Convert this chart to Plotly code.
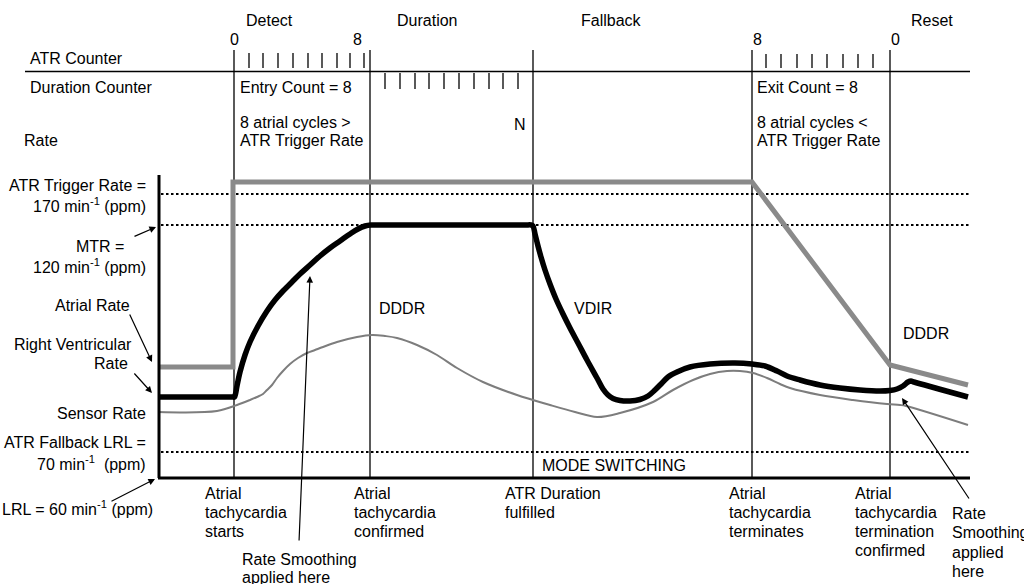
import plotly.graph_objects as go

# ---------------- data (diagram units: x = time position, y = rate position, y grows downward) ----
phase_labels = ["Detect", "Duration", "Fallback", "Reset"]
phase_label_x = [269, 427, 611, 932]

event_x = [234, 370, 533, 752, 890]          # tachycardia starts / confirmed / duration / terminates / reset
counter_labels = ["0", "8", "8", "0"]
counter_label_x = [234, 357, 757, 895]

atr_counter_ticks = [249, 263, 278, 293, 308, 322, 337, 350, 364]
duration_counter_ticks = [385, 400, 415, 429, 444, 459, 474, 489, 503, 518]
exit_counter_ticks = [766, 781, 797, 812, 827, 843, 858, 873]

level_names = ["ATR Trigger Rate", "MTR", "ATR Fallback LRL", "LRL"]
level_y = [194, 225, 452, 478]

atrial_x = [158, 233, 233, 752, 890, 968]
atrial_y = [367, 367, 182, 182, 365, 385]

rv_x = [158, 232, 234.5, 235.5, 237, 240, 245, 250, 258, 267, 275, 283, 292, 300, 310, 320, 330, 340, 350,
        358, 365, 371, 380, 525, 531, 533, 535, 538, 541, 545, 550, 556, 563, 570, 578, 587, 597, 603, 608,
        613, 620, 630, 640, 648, 655, 662, 668, 677, 690, 710, 735, 752, 765, 777, 787, 800, 820, 840, 860,
        880, 890, 897, 903, 908, 911, 914, 968]
rv_y = [397, 397, 397, 394, 386, 372, 355, 342, 326, 311, 300, 291, 282, 274, 265, 256, 248, 241, 234,
        229, 226, 225, 225, 225, 225, 226, 234, 246, 257, 270, 284, 299, 314, 328, 343, 360, 378, 389, 395,
        398.5, 400.5, 401, 399.5, 396, 390, 383, 377, 372, 367, 364, 363, 364, 366, 371, 376, 380, 385, 388,
        390, 391, 390.5, 389, 386, 382, 381, 382, 397]

sensor_x = [158, 217, 237, 250, 257, 263, 267, 272, 277, 283, 290, 298, 307, 315, 323, 337, 357, 372, 385,
            397, 417, 437, 457, 483, 517, 550, 575, 597, 620, 653, 673, 693, 710, 727, 740, 753, 767, 780,
            790, 820, 853, 887, 900, 906, 968]
sensor_y = [412, 411, 405, 400, 397, 394, 390, 385, 378, 371, 364, 358, 353, 350, 347, 342, 337, 335, 336,
            338, 345, 355, 368, 382, 395, 405, 412, 417, 413, 402, 390, 380, 374, 371, 371, 373, 378, 384,
            388, 395, 400, 404, 405, 406, 425]

FONT = "Arial, Liberation Sans, Helvetica, sans-serif"
FS = 16

fig = go.Figure()


def line(xs, ys, color="black", width=1.3, dash=None, shape="linear"):
    fig.add_trace(go.Scatter(x=xs, y=ys, mode="lines", hoverinfo="skip", showlegend=False,
                             line=dict(color=color, width=width, dash=dash, shape=shape)))


# event (vertical) lines
for ex in event_x:
    line([ex, ex], [50, level_y[3]], width=1.3)

# counter row separator
line([25, 970], [71.5, 71.5], width=1.5)

# counter ticks
for t in atr_counter_ticks:
    line([t, t], [53, 68], width=1.3)
for t in duration_counter_ticks:
    line([t, t], [73, 89], width=1.3)
for t in exit_counter_ticks:
    line([t, t], [54, 68], width=1.3)

# dotted reference levels
for ly in level_y[:3]:
    line([161, 970], [ly, ly], width=2.2, dash="2.5px,2.5px")

# rates
line(sensor_x, sensor_y, color="#7d7d7d", width=2, shape="spline")
line(atrial_x, atrial_y, color="#8a8a8a", width=5)
line(rv_x, rv_y, color="black", width=5.5, shape="spline")

# axes
line([159, 159], [175, level_y[3]], width=3)
line([158, 970], [level_y[3], level_y[3]], width=3)

ann = []


def text(x, y, s, anchor="left", size=FS):
    ann.append(dict(x=x, y=y, xref="x", yref="y", text=s, showarrow=False, xanchor=anchor,
                    yanchor="middle", font=dict(family=FONT, size=size, color="black")))


def arrow(hx, hy, tx, ty):
    ann.append(dict(x=hx, y=hy, ax=tx, ay=ty, xref="x", yref="y", axref="x", ayref="y", text="",
                    showarrow=True, arrowhead=2, arrowsize=1.1, arrowwidth=1.2, arrowcolor="black",
                    standoff=0, startstandoff=0))


for lab, px in zip(phase_labels, phase_label_x):
    text(px, 20, lab, "center")
for lab, px in zip(counter_labels, counter_label_x):
    text(px, 39, lab, "center")

text(28, 58, "ATR Counter")
text(28, 87, "Duration Counter")
text(22, 140, "Rate")
text(238, 87, "Entry Count = 8")
text(238, 122, "8 atrial cycles >")
text(238, 140, "ATR Trigger Rate")
text(520, 124, "N", "center")
text(755, 87, "Exit Count = 8")
text(755, 122, "8 atrial cycles <")
text(755, 140, "ATR Trigger Rate")

sup = "min<sup>-1</sup>"
text(148, 185, "ATR Trigger Rate =", "right")
text(148, 205, f"170 {sup} (ppm)", "right")
text(126, 246, "MTR =", "right")
text(148, 266, f"120 {sup} (ppm)", "right")
text(132, 305, "Atrial Rate", "right")
text(134, 344, "Right Ventricular", "right")
text(130, 363, "Rate", "right")
text(148, 413, "Sensor Rate", "right")
text(148, 442, "ATR Fallback LRL =", "right")
text(148, 463, f"70 {sup}  (ppm)", "right")
text(0, 508, f"LRL = 60 {sup} (ppm)", "left")

text(402, 308, "DDDR", "center")
text(593, 308, "VDIR", "center")
text(926, 333, "DDDR", "center")
text(540, 465, "MODE SWITCHING", "left")

bottom_labels = [
    (203, ["Atrial", "tachycardia", "starts"]),
    (352, ["Atrial", "tachycardia", "confirmed"]),
    (503, ["ATR Duration", "fulfilled"]),
    (727, ["Atrial", "tachycardia", "terminates"]),
    (853, ["Atrial", "tachycardia", "termination", "confirmed"]),
]
for bx, lines in bottom_labels:
    for i, s in enumerate(lines):
        text(bx, 493 + 19 * i, s)
for i, s in enumerate(["Rate", "Smoothing", "applied", "here"]):
    text(950, 513 + 19.5 * i, s)
text(240, 559, "Rate Smoothing")
text(240, 577, "applied here")

arrow(156, 227, 133, 237)      # MTR
arrow(152, 362, 129, 313)      # Atrial rate
arrow(152, 393, 133, 372)      # RV rate
arrow(155, 479, 110, 502)      # LRL
arrow(310, 276, 299, 542)      # rate smoothing (left)
arrow(902, 398, 970, 500)      # rate smoothing (right)

fig.update_layout(
    width=1024, height=584, margin=dict(l=0, r=0, t=0, b=0),
    paper_bgcolor="white", plot_bgcolor="white",
    xaxis=dict(range=[0, 1024], visible=False, fixedrange=True),
    yaxis=dict(range=[584, 0], visible=False, fixedrange=True),
    annotations=ann, showlegend=False,
)

fig.write_html("out.html", config={"displayModeBar": False, "staticPlot": True},
               post_script="document.body.style.margin='0';")
